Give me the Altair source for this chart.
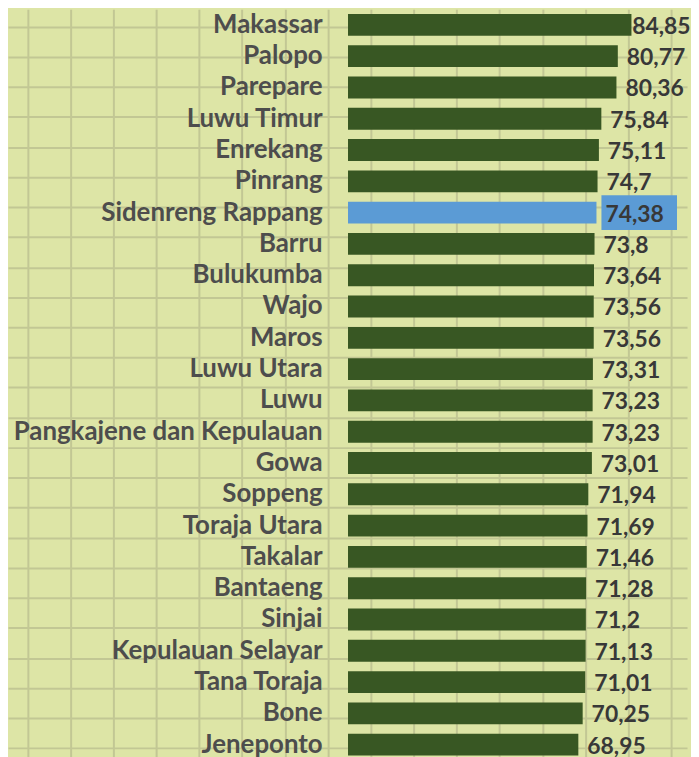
import altair as alt
import pandas as pd

regions = [
    "Makassar", "Palopo", "Parepare", "Luwu Timur", "Enrekang", "Pinrang",
    "Sidenreng Rappang", "Barru", "Bulukumba", "Wajo", "Maros", "Luwu Utara",
    "Luwu", "Pangkajene dan Kepulauan", "Gowa", "Soppeng", "Toraja Utara",
    "Takalar", "Bantaeng", "Sinjai", "Kepulauan Selayar", "Tana Toraja",
    "Bone", "Jeneponto",
]
values = [
    84.85, 80.77, 80.36, 75.84, 75.11, 74.7,
    74.38, 73.8, 73.64, 73.56, 73.56, 73.31,
    73.23, 73.23, 73.01, 71.94, 71.69,
    71.46, 71.28, 71.2, 71.13, 71.01,
    70.25, 68.95,
]
HIGHLIGHT = "Sidenreng Rappang"

df = pd.DataFrame({"region": regions, "value": values})

# ---- layout / style ----
W = 683
STEP = 31.48
H = STEP * len(regions)
TOP_SHIFT = 4
PX_PER_UNIT = 3.36
ZERO_PX = 342  # zero position inside plot area
X_MIN = -ZERO_PX / PX_PER_UNIT
X_MAX = (W - ZERO_PX) / PX_PER_UNIT
LABEL_MAX = 82.4  # keep value labels inside the frame

BG = "#dde5a6"
GRID = "#c2c794"
GREEN = "#385723"
BLUE = "#5b9bd5"
FONT = "Lato"

# decorative background grid (pixel spacing of the paper-like grid)
grid_x = [(19.7 + 43.15 * k - ZERO_PX) / PX_PER_UNIT for k in range(16)]
grid_y = [13.7 + TOP_SHIFT + 30.23 * k for k in range(26)
          if 13.7 + TOP_SHIFT + 30.23 * k < H]

xscale = alt.Scale(domain=[X_MIN, X_MAX], nice=False, zero=False)
xaxis = alt.Axis(values=grid_x, grid=True, gridColor=GRID, gridWidth=2,
                 labels=False, ticks=False, domain=False, title=None)
yscale = alt.Scale(paddingInner=0.3, paddingOuter=0.15)
yaxis = alt.Axis(orient="left", offset=-ZERO_PX, labelPadding=26, ticks=False,
                 domain=False, grid=False, title=None, labelFont=FONT,
                 labelFontSize=26, labelFontWeight="bold", labelColor="#4d4d4d",
                 labelLimit=0)

def X(field):
    return alt.X(f"{field}:Q", scale=xscale, axis=xaxis)

def Y():
    return alt.Y("region:N", sort=regions, scale=yscale, axis=yaxis)

base = alt.Chart(df)

bars = base.mark_bar(size=22).encode(
    x=X("value"),
    y=Y(),
    color=alt.condition(alt.datum.region == HIGHLIGHT, alt.value(BLUE), alt.value(GREEN)),
)

box = base.transform_filter(alt.datum.region == HIGHLIGHT).mark_bar(
    size=35, xOffset=5, x2Offset=81, color=BLUE
).encode(x=X("value"), x2="value:Q", y=Y())

text = base.transform_calculate(
    label="replace(toString(datum.value), '.', ',')",
    label_x=f"min(datum.value, {LABEL_MAX})",
).mark_text(
    align="left", baseline="middle", dx=9, dy=2, font=FONT, fontSize=23,
    fontWeight="bold", color="#383838"
).encode(x=X("label_x"), y=Y(), text="label:N")

inner = alt.layer(bars, box, text)

gridlayer = base.transform_calculate(gy="0").mark_point(opacity=0).encode(
    x=X("value"),
    y=alt.Y("gy:Q",
            scale=alt.Scale(domain=[0, H], reverse=True, nice=False, zero=False),
            axis=alt.Axis(orient="right", values=grid_y, grid=True, gridColor=GRID,
                          gridWidth=2, labels=False, ticks=False, domain=False,
                          title=None)),
)

chart = alt.layer(inner, gridlayer).resolve_scale(y="independent").properties(
    width=W, height=H,
    padding={"top": -TOP_SHIFT, "left": 0, "right": 0, "bottom": 0},
    background=BG,
).configure_view(stroke=None)

chart.save("out.html", embed_options={"renderer": "svg", "actions": False})
